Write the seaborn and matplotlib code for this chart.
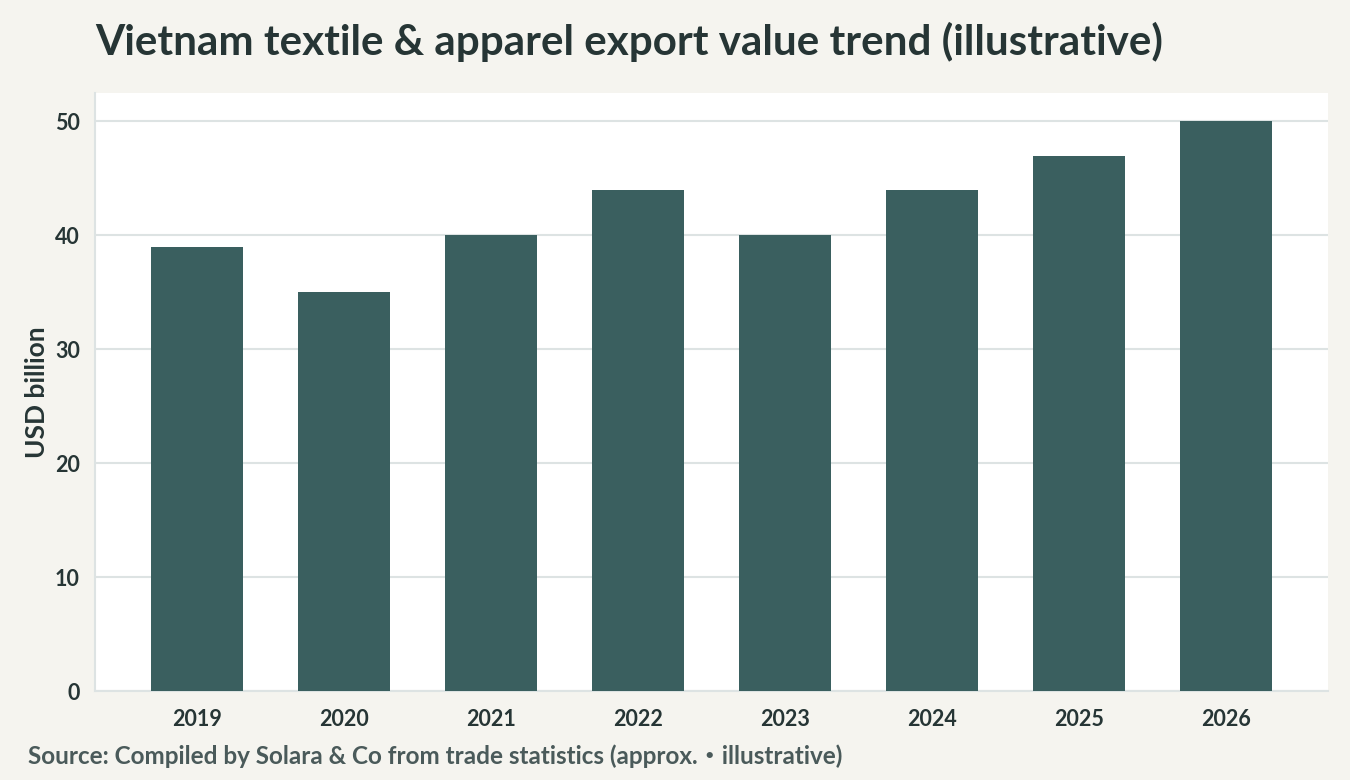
import matplotlib
matplotlib.use("Agg")
import matplotlib.pyplot as plt
import seaborn as sns
import pandas as pd

years = ["2019", "2020", "2021", "2022", "2023", "2024", "2025", "2026"]
values = [39, 35, 40, 44, 40, 44, 47, 50]
yticks = [0, 10, 20, 30, 40, 50]

title = "Vietnam textile & apparel export value trend (illustrative)"
ylabel = "USD billion"
source = "Source: Compiled by Solara & Co from trade statistics (approx.・illustrative)"

BG = "#f5f4ef"
BAR = "#3a5f5f"
TXT = "#263535"
GRID = "#dde3e3"

sns.set_theme(style="white")
FAM = ["Lato", "Noto Sans CJK JP", "DejaVu Sans"]
plt.rcParams["font.family"] = FAM
plt.rcParams["font.weight"] = "bold"

df = pd.DataFrame({"year": years, "value": values})

fig = plt.figure(figsize=(13.5, 7.8), dpi=100, facecolor=BG)
ax = fig.add_axes([95/1350, 89/780, 1233/1350, 598/780])
ax.set_facecolor("white")

sns.barplot(data=df, x="year", y="value", color=BAR, width=0.62, saturation=1,
            linewidth=0, edgecolor="none", ax=ax, zorder=3)

ax.set_xlim(-0.694, 7.694)
ax.set_ylim(0, 52.5)
ax.set_yticks(yticks)
ax.yaxis.grid(True, color=GRID, linewidth=1.5, zorder=0)
ax.xaxis.grid(False)

for s in ["top", "right"]:
    ax.spines[s].set_visible(False)
for s in ["left", "bottom"]:
    ax.spines[s].set_color(GRID)
    ax.spines[s].set_linewidth(1.5)

ax.tick_params(axis="both", which="both", length=5, width=1.5, color="#4a5a5a",
               labelsize=15.5, labelcolor=TXT, pad=6)
ax.tick_params(axis="x", pad=8)
for lab in ax.get_xticklabels() + ax.get_yticklabels():
    lab.set_fontweight("bold")

ax.set_xlabel("")
ax.set_ylabel(ylabel, fontsize=19, fontweight="bold", color=TXT, labelpad=4)

fig.text(95/1350, 1 - 55/780, title, fontsize=30.3, fontweight="bold", color=TXT,
         ha="left", va="baseline")
fig.text(28/1350, 1 - 764/780, source, fontsize=17.5, fontweight="bold", color="#4a5a5a",
         ha="left", va="baseline")

fig.savefig("out.png", dpi=100, facecolor=BG)
